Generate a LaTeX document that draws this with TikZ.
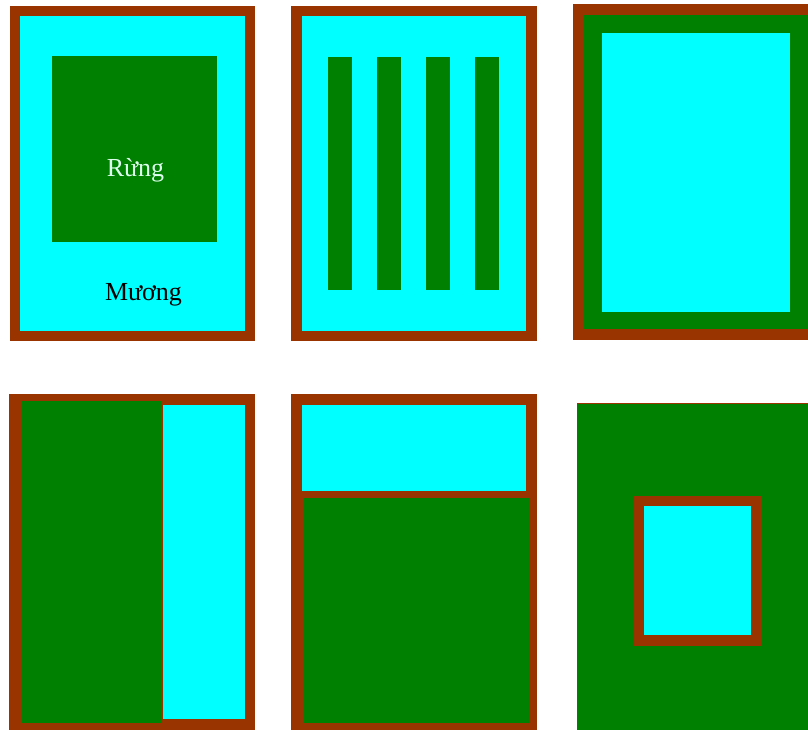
\documentclass[tikz,border=0pt]{standalone}
\usepackage{fontspec}
\setmainfont{Liberation Serif}
\definecolor{dbrown}{HTML}{993300}
\definecolor{dcyan}{HTML}{00FFFF}
\definecolor{dgreen}{HTML}{008000}
\definecolor{paletext}{HTML}{DDFFEE}
\tikzset{
  bank/.style={fill=dbrown},
  water/.style={fill=dcyan},
  forest/.style={fill=dgreen},
  lbl/.style={anchor=base, inner sep=0pt, font=\fontsize{26}{30}\selectfont}
}
\begin{document}
\begin{tikzpicture}[x=1pt,y=-1pt]
\useasboundingbox (0,0) rectangle (808,729);
\fill[white] (0,0) rectangle (808,729);
\begin{scope}
\clip (0,0) rectangle (808,729);
% Panel 1
\path[bank] (9.5,5.5) rectangle (255.3,341);
\path[water] (20,16) rectangle (245,330.7);
\path[forest] (52,56) rectangle (217,242);
\node[lbl, text=paletext] (rung) at (135.5,176) {Rừng};
\node[lbl, text=black] (muong) at (143.5,300) {Mương};
% Panel 2
\path[bank] (291.3,5.5) rectangle (536.7,341);
\path[water] (302,16) rectangle (526,330.7);
\foreach \x in {328,377,426,475}
  \path[forest] (\x,57) rectangle (\x+24,290);
% Panel 3
\path[bank] (573,4) rectangle (830,340);
\path[forest] (584,15) rectangle (830,329.3);
\path[water] (602,33) rectangle (790,312);
% Panel 4
\path[bank] (9.3,394) rectangle (255.3,730);
\path[forest] (21.7,400.7) rectangle (161.3,723.3);
\path[water] (162.7,405) rectangle (244.7,719.3);
% Panel 5
\path[bank] (291.3,394) rectangle (536.7,730);
\path[water] (302,405) rectangle (526,491);
\path[forest] (303.7,497.7) rectangle (530.3,723.3);
% Panel 6
\path[bank] (577,403) rectangle (830,730);
\path[forest] (578,404) rectangle (830,730);
\path[bank] (633.7,495.7) rectangle (761.7,645.7);
\path[water] (644.3,506.3) rectangle (751.3,635.3);
\end{scope}
\end{tikzpicture}
\end{document}
